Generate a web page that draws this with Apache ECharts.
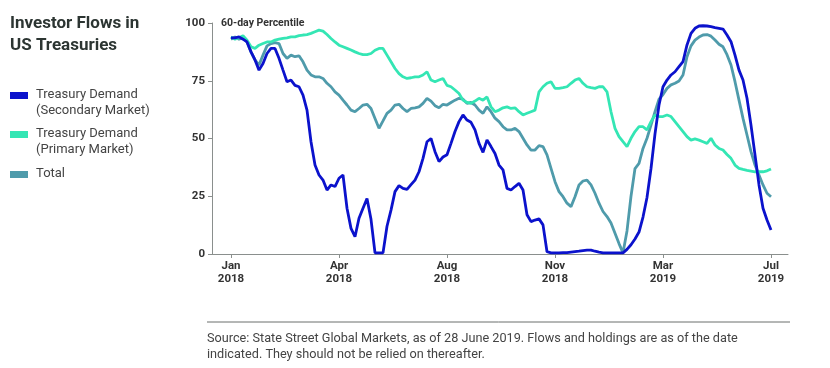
<!DOCTYPE html>
<html>
<head>
<meta charset="utf-8">
<script src="https://cdn.jsdelivr.net/npm/echarts@6/dist/echarts.min.js"></script>
<style>html,body{margin:0;padding:0;background:#fff}#c{width:830px;height:368px}</style>
</head>
<body>
<div id="c"></div>
<script>
// Tick labels (evenly spaced along the index axis)
const tickPositions = [0, 27, 54, 81, 108, 135];
const tickLabels = ['Jan\n2018', 'Apr\n2018', 'Aug\n2018', 'Nov\n2018', 'Mar\n2019', 'Jul\n2019'];

// 60-day percentile readings (one per ~4px step)
const secondary = [
93.6,93.6,94,93,91.8,87.5,84,79.6,82.5,86.8,
89,89,84.7,79.6,74.6,75.3,73,72.4,68.8,62.3,
48.6,38.5,34.2,32,27.7,29.9,29.2,32.8,34.2,19.8,
11.1,7.5,15.5,19.8,24,15,0.5,0.5,0.5,12,
19,27,29.6,28.4,28,30,32,35.6,41.4,48.6,
50,44.3,40,42,43,47.9,53,57.3,60.2,58,
57,53.7,47.9,44,49.4,46.5,43.5,38.5,36.4,28.4,
27.7,29.2,30.6,27.7,17,14,14.7,15.2,12.6,1,
0.5,0.5,0.5,0.6,0.6,0.8,1,1.2,1.5,1.7,
1.7,1.2,0.8,0.5,0.5,0.5,0.5,0.5,0.5,2,
4,6.5,9.5,16,24.5,37,52,64.5,72.4,75.3,
77.5,78.9,81.1,83.3,90.5,95.5,97.7,98.7,98.8,98.7,
98.4,98,97.7,97.4,94.8,91.9,86.1,79.6,75.3,67.4,
55.8,42.9,29.9,19.8,14.7,10.4
];
const primary = [
94,93,93.6,94.5,92.6,89.7,89,90.4,91.1,91.8,
91.8,92.6,93,93.3,93.6,94,94,94.5,94.8,95,
95.5,96.2,96.9,96.5,95,93.3,91.8,90.4,89.7,89,
88.3,87.5,86.8,86.3,86.3,86.8,88.2,89,89,86.1,
83.2,80.3,78.1,76.7,76,76.3,76.7,76.7,77.5,78.9,
75.3,74.6,75.3,76,73,72.4,71,69.5,66.6,65.6,
65.2,66.2,67.4,66.6,68,63.7,61.6,62.3,63.3,63.7,
63,63.3,61.6,60.2,60.9,61.6,62.3,70.2,72.4,73.9,
74.6,71.7,71.7,72,72.4,73.9,75.3,76,73.9,72.4,
72,71.7,72.4,72.4,70.2,61.6,54.4,50.8,48.6,46.5,
50.1,53,55.1,55.1,53.7,57.3,60.2,59.5,59.5,60.2,
59.5,57.3,55.1,53,50.8,49.3,49.8,49.3,48.6,47.9,
50.1,47.2,45.7,45,43.1,41.4,38.5,37.1,36.6,36.2,
35.9,35.6,35.6,35.6,36,36.8
];
const total = [
93,94,93,93.6,91.8,87.5,84,81.8,86.1,90.1,
91.1,91.5,91.1,86.8,84.7,86.1,85.4,85.8,83.2,79.6,
77.5,76.7,76.7,76,73.9,72.4,70.2,68.8,66.6,64.5,
62.3,61.6,63,64.5,64.8,63,58.7,54.4,57.6,60.9,
62.3,64.5,64.8,63,61.6,63,63.3,63.7,65.2,67.4,
66.2,64.2,63.3,64.8,64.5,65.6,66.6,67.4,67,65.2,
65.6,64.5,62.3,60.9,63.7,61.6,58.8,57.3,55.1,53.7,
53.7,54.4,53,50.1,47.2,45,45,46.9,46.5,42.9,
37.1,31.3,27,24.8,22,20.5,24.8,29.9,31.6,32,
29.9,26.3,22,18.4,16.2,13.4,9,4.5,0.5,10,
25,37,39.2,45.7,50.1,55.8,61.6,67,69,71.7,
73.2,73.9,74.9,77.5,85.4,90.1,92.6,93.9,94.8,95,
94.3,92.6,90.8,89.7,86.3,81.8,74.6,66.6,58.7,51.5,
44.3,38.5,34.2,29.9,26.3,24.8
];

const toPairs = arr => arr.map((v, i) => [i, v]);
const FONT = 'Roboto, "Open Sans", sans-serif';
const TXT = '#333';

const chart = echarts.init(document.getElementById('c'));
chart.setOption({
  animation: false,
  backgroundColor: '#fff',
  grid: { left: 212, right: 42, top: 23, bottom: 114, containLabel: false },
  xAxis: {
    type: 'value', min: -4.75, max: 139.25,
    splitLine: { show: false },
    axisLine: { show: true, onZero: false, lineStyle: { color: '#8a8f8d', width: 1 } },
    axisTick: { show: true, length: 4, customValues: tickPositions, lineStyle: { color: '#8a8f8d' } },
    axisLabel: {
      customValues: tickPositions,
      formatter: v => tickLabels[tickPositions.indexOf(v)] || '',
      color: TXT, fontFamily: FONT, fontWeight: 'bold', fontSize: 11.5, lineHeight: 13, margin: 6
    }
  },
  yAxis: {
    type: 'value', min: 0, max: 100, interval: 25,
    splitLine: { show: false },
    axisLine: { show: true, onZero: false, lineStyle: { color: '#8a8f8d', width: 1 } },
    axisTick: { show: true, length: 4, lineStyle: { color: '#8a8f8d' } },
    axisLabel: { color: TXT, fontFamily: FONT, fontWeight: 'bold', fontSize: 11.5, margin: 7 }
  },
  series: [
    { name: 'Total', type: 'line', data: toPairs(total), showSymbol: false, symbol: 'none',
      lineStyle: { color: '#4f9bab', width: 2.8 }, z: 2 },
    { name: 'Primary', type: 'line', data: toPairs(primary), showSymbol: false, symbol: 'none',
      lineStyle: { color: '#34e6b4', width: 2.8 }, z: 3 },
    { name: 'Secondary', type: 'line', data: toPairs(secondary), showSymbol: false, symbol: 'none',
      lineStyle: { color: '#0b12cc', width: 2.8 }, z: 4 }
  ],
  graphic: [
    { type: 'text', left: 10, top: 13, style: { text: 'Investor Flows in\nUS Treasuries', font: 'bold 17px ' + FONT, fill: '#2c3532', lineHeight: 22 } },
    { type: 'text', left: 221, top: 18, style: { text: '60-day Percentile', font: 'bold 10.5px ' + FONT, fill: TXT } },
    { type: 'rect', shape: { x: 10, y: 92, width: 18, height: 7 }, style: { fill: '#0b12cc' } },
    { type: 'text', left: 36, top: 87, style: { text: 'Treasury Demand\n(Secondary Market)', font: '13px ' + FONT, fill: '#444', lineHeight: 15.5 } },
    { type: 'rect', shape: { x: 10, y: 131, width: 18, height: 7 }, style: { fill: '#34e6b4' } },
    { type: 'text', left: 36, top: 126, style: { text: 'Treasury Demand\n(Primary Market)', font: '13px ' + FONT, fill: '#444', lineHeight: 15.5 } },
    { type: 'rect', shape: { x: 10, y: 171, width: 18, height: 7 }, style: { fill: '#4f9bab' } },
    { type: 'text', left: 36, top: 166, style: { text: 'Total', font: '13px ' + FONT, fill: '#444', lineHeight: 15.5 } },
    { type: 'line', shape: { x1: 207, y1: 322, x2: 790, y2: 322 }, style: { stroke: '#6b6f6d', lineWidth: 1 } },
    { type: 'text', left: 207, top: 331, style: { text: 'Source: State Street Global Markets, as of 28 June 2019. Flows and holdings are as of the date\nindicated. They should not be relied on thereafter.', font: '12.7px ' + FONT, fill: '#444', lineHeight: 16 } }
  ]
});
</script>
</body>
</html>
